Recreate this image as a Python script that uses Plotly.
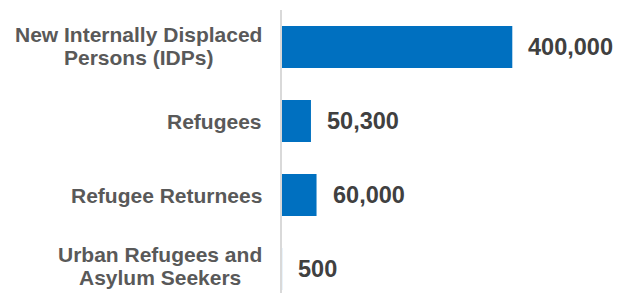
import plotly.graph_objects as go

categories = ["New Internally Displaced<br>Persons (IDPs)", "Refugees", "Refugee Returnees",
              "Urban Refugees and<br>Asylum Seekers"]
values = [400000, 50300, 60000, 500]

BAR_COLOR = "#0070C0"
LABEL_COLOR = "#595959"
VALUE_COLOR = "#404040"
FONT = "Liberation Sans, Arial, sans-serif"
LABEL_SIZE = 21
VALUE_SIZE = 23.5
LINE_PITCH = 23
LABEL_NUDGE = [0.7, 0, 0, 3.5]  # px, positive = up
LABEL_GAP = 20  # px between label block right edge and plot edge

W, H = 617, 293
ML, MR, MT, MB = 282, 0, 10, 0
X_MAX = 581850

# Arial/Liberation Sans Bold advance widths (1/1000 em), used to centre wrapped labels
BOLD_W = {" ": 278, "(": 333, ")": 333, "A": 722, "D": 722, "I": 278, "N": 722, "P": 667,
          "R": 722, "S": 667, "U": 722, "a": 556, "b": 611, "c": 556, "d": 611, "e": 556,
          "f": 333, "g": 611, "i": 278, "k": 556, "l": 278, "m": 889, "n": 611, "o": 611,
          "p": 611, "r": 389, "s": 556, "t": 333, "u": 611, "y": 556, "w": 778}


def text_w(s, size):
    return sum(BOLD_W.get(ch, 556) for ch in s) * size / 1000.0


# sub-pixel bars fade as they would with anti-aliasing (plotly snaps them to 1px)
plot_w = W - ML - MR
bar_opacity = [min(1.0, v / X_MAX * plot_w) ** 2 for v in values]

fig = go.Figure()
fig.add_trace(go.Bar(
    x=values, y=categories, orientation="h",
    marker=dict(color=BAR_COLOR, line=dict(width=0), opacity=bar_opacity),
    width=0.57, hoverinfo="skip",
))

annotations = []
for c, v, nudge in zip(categories, values, LABEL_NUDGE):
    lines = c.split("<br>")
    n = len(lines)
    block_w = max(text_w(l, LABEL_SIZE) for l in lines)
    for i, line in enumerate(lines):
        annotations.append(dict(
            x=0, xref="paper", y=c, yref="y", text=line, showarrow=False,
            xanchor="center", yanchor="middle",
            xshift=-LABEL_GAP - block_w / 2,
            yshift=((n - 1) / 2 - i) * LINE_PITCH + nudge,
            font=dict(family=FONT, size=LABEL_SIZE, color=LABEL_COLOR, weight="bold"),
        ))
    annotations.append(dict(
        x=v, xref="x", y=c, yref="y", text=f"{v:,}", showarrow=False,
        xanchor="left", yanchor="middle", xshift=14,
        font=dict(family=FONT, size=VALUE_SIZE, color=VALUE_COLOR, weight="bold"),
    ))

fig.update_layout(
    width=W, height=H,
    margin=dict(l=ML, r=MR, t=MT, b=MB),
    paper_bgcolor="white", plot_bgcolor="white",
    showlegend=False,
    xaxis=dict(range=[0, X_MAX], visible=False, fixedrange=True),
    yaxis=dict(type="category", range=[3.324, -0.5], showticklabels=False,
               showline=True, linecolor="#D9D9D9", linewidth=2, ticks="",
               showgrid=False, zeroline=False, fixedrange=True),
    annotations=annotations,
    font=dict(family=FONT),
)

fig.write_html(
    "out.html",
    config={"displayModeBar": False},
    post_script="document.body.style.margin='0';document.body.style.overflow='hidden';",
)
